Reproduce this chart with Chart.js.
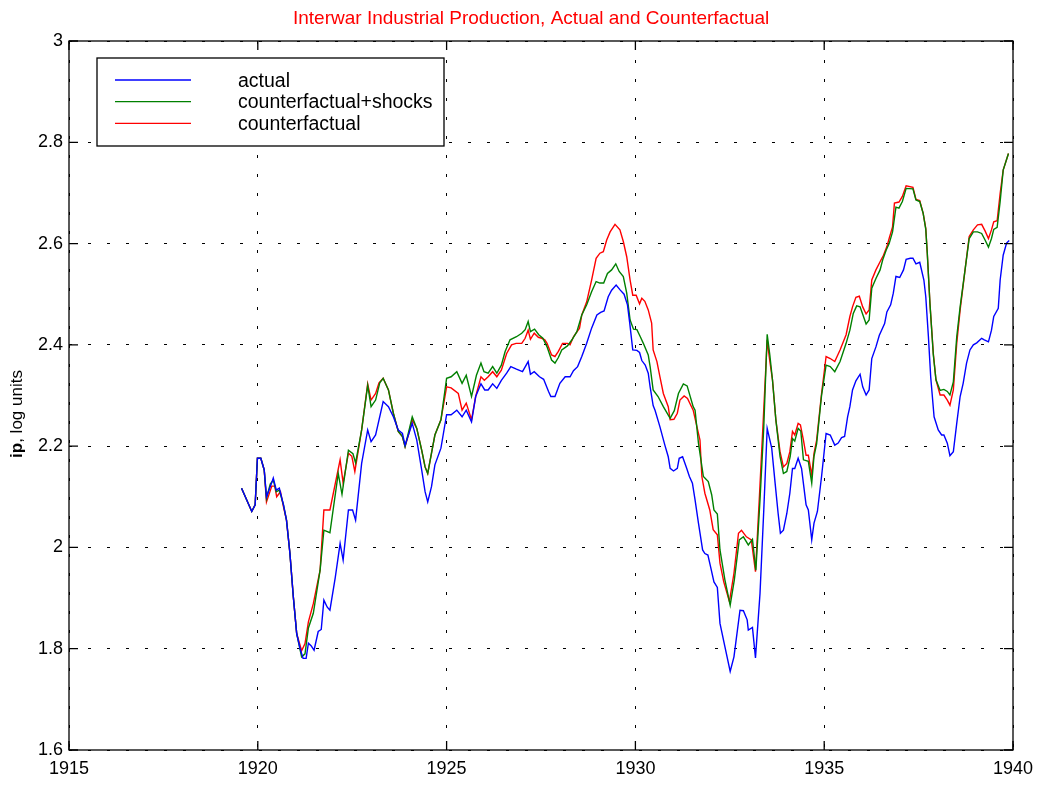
<!DOCTYPE html>
<html>
<head>
<meta charset="utf-8">
<script src="https://cdn.jsdelivr.net/npm/chart.js@4.4.1/dist/chart.umd.min.js"></script>
<style>
  html, body { margin: 0; padding: 0; background: #fff; }
  #wrap { width: 1042px; height: 787px; }
</style>
</head>
<body>
<div id="wrap"><canvas id="chart" width="1042" height="787"></canvas></div>
<script>
// series: [year, ip in log units]
const actual = [
  [1919.57, 2.117], [1919.84, 2.071], [1919.93, 2.084], [1919.99, 2.176], [1920.08, 2.176],
  [1920.17, 2.153], [1920.23, 2.100], [1920.37, 2.128], [1920.41, 2.137], [1920.49, 2.113],
  [1920.57, 2.117], [1920.68, 2.084], [1920.76, 2.054], [1920.85, 1.989], [1920.94, 1.903],
  [1921.03, 1.830], [1921.12, 1.800], [1921.20, 1.781], [1921.28, 1.781], [1921.34, 1.811],
  [1921.41, 1.806], [1921.49, 1.797], [1921.60, 1.834], [1921.68, 1.838], [1921.75, 1.896],
  [1921.84, 1.882], [1921.91, 1.876], [1922.05, 1.940], [1922.18, 2.008], [1922.26, 1.975],
  [1922.40, 2.074], [1922.51, 2.074], [1922.59, 2.054], [1922.75, 2.166], [1922.91, 2.232],
  [1923.00, 2.209], [1923.12, 2.222], [1923.32, 2.288], [1923.46, 2.278], [1923.59, 2.258],
  [1923.72, 2.232], [1923.83, 2.225], [1923.90, 2.202], [1924.09, 2.245], [1924.21, 2.212],
  [1924.34, 2.153], [1924.43, 2.110], [1924.50, 2.090], [1924.60, 2.120], [1924.69, 2.163],
  [1924.85, 2.196], [1925.00, 2.262], [1925.12, 2.262], [1925.27, 2.271], [1925.41, 2.258],
  [1925.52, 2.271], [1925.66, 2.248], [1925.77, 2.298], [1925.91, 2.323], [1926.01, 2.311],
  [1926.10, 2.311], [1926.22, 2.323], [1926.33, 2.314], [1926.45, 2.330], [1926.59, 2.344],
  [1926.70, 2.357], [1926.85, 2.352], [1927.01, 2.347], [1927.16, 2.367], [1927.22, 2.342],
  [1927.32, 2.347], [1927.46, 2.337], [1927.57, 2.332], [1927.70, 2.308], [1927.76, 2.298],
  [1927.87, 2.298], [1928.00, 2.324], [1928.14, 2.337], [1928.27, 2.337], [1928.36, 2.349],
  [1928.47, 2.357], [1928.58, 2.377], [1928.71, 2.403], [1928.84, 2.433], [1928.98, 2.459],
  [1929.08, 2.464], [1929.17, 2.467], [1929.28, 2.495], [1929.37, 2.508], [1929.49, 2.518],
  [1929.60, 2.508], [1929.70, 2.500], [1929.79, 2.479], [1929.85, 2.443], [1929.93, 2.390],
  [1930.04, 2.389], [1930.11, 2.385], [1930.17, 2.369], [1930.26, 2.360], [1930.34, 2.344],
  [1930.39, 2.317], [1930.47, 2.280], [1930.52, 2.271], [1930.65, 2.238], [1930.78, 2.202],
  [1930.87, 2.179], [1930.92, 2.156], [1931.01, 2.151], [1931.11, 2.156], [1931.16, 2.176],
  [1931.25, 2.179], [1931.36, 2.156], [1931.43, 2.140], [1931.51, 2.127], [1931.58, 2.094],
  [1931.67, 2.048], [1931.78, 1.995], [1931.84, 1.988], [1931.92, 1.985], [1931.99, 1.962],
  [1932.08, 1.932], [1932.17, 1.921], [1932.24, 1.850], [1932.37, 1.804], [1932.51, 1.755],
  [1932.61, 1.784], [1932.77, 1.876], [1932.86, 1.875], [1932.96, 1.857], [1932.99, 1.837],
  [1933.10, 1.842], [1933.18, 1.782], [1933.30, 1.909], [1933.40, 2.074], [1933.49, 2.235],
  [1933.61, 2.196], [1933.70, 2.127], [1933.78, 2.067], [1933.84, 2.028], [1933.92, 2.034],
  [1934.01, 2.067], [1934.09, 2.107], [1934.16, 2.156], [1934.22, 2.156], [1934.31, 2.176],
  [1934.40, 2.156], [1934.46, 2.120], [1934.52, 2.084], [1934.58, 2.074], [1934.67, 2.015],
  [1934.73, 2.048], [1934.82, 2.071], [1934.93, 2.140], [1935.05, 2.225], [1935.16, 2.222],
  [1935.28, 2.202], [1935.37, 2.206], [1935.46, 2.217], [1935.54, 2.219], [1935.62, 2.258],
  [1935.68, 2.278], [1935.75, 2.311], [1935.84, 2.329], [1935.95, 2.342], [1936.02, 2.317],
  [1936.11, 2.301], [1936.19, 2.311], [1936.26, 2.373], [1936.37, 2.396], [1936.46, 2.419],
  [1936.52, 2.429], [1936.60, 2.442], [1936.66, 2.465], [1936.76, 2.479], [1936.83, 2.502],
  [1936.90, 2.535], [1937.00, 2.533], [1937.10, 2.548], [1937.17, 2.569], [1937.28, 2.571],
  [1937.35, 2.571], [1937.43, 2.560], [1937.53, 2.563], [1937.64, 2.528], [1937.69, 2.495],
  [1937.76, 2.416], [1937.82, 2.337], [1937.91, 2.258], [1938.02, 2.232], [1938.11, 2.222],
  [1938.17, 2.222], [1938.26, 2.206], [1938.33, 2.181], [1938.42, 2.189], [1938.51, 2.245],
  [1938.60, 2.298], [1938.68, 2.324], [1938.77, 2.364], [1938.86, 2.390], [1938.95, 2.400],
  [1939.04, 2.404], [1939.17, 2.413], [1939.24, 2.410], [1939.35, 2.406], [1939.43, 2.429],
  [1939.49, 2.456], [1939.61, 2.472], [1939.66, 2.528], [1939.74, 2.577], [1939.83, 2.601],
  [1939.90, 2.606]
];

const cfShocks = [
  [1919.57, 2.117], [1919.84, 2.071], [1919.93, 2.084], [1919.99, 2.176], [1920.08, 2.176],
  [1920.17, 2.153], [1920.23, 2.097], [1920.33, 2.125], [1920.41, 2.133], [1920.49, 2.110],
  [1920.57, 2.113], [1920.68, 2.084], [1920.76, 2.054], [1920.85, 1.989], [1920.94, 1.903],
  [1921.03, 1.830], [1921.10, 1.805], [1921.16, 1.784], [1921.25, 1.790], [1921.34, 1.841],
  [1921.47, 1.870], [1921.65, 1.955], [1921.75, 2.034], [1921.91, 2.029], [1922.13, 2.146],
  [1922.23, 2.105], [1922.40, 2.192], [1922.52, 2.185], [1922.59, 2.167], [1922.75, 2.232],
  [1922.91, 2.320], [1923.00, 2.278], [1923.12, 2.291], [1923.23, 2.325], [1923.32, 2.334],
  [1923.46, 2.311], [1923.59, 2.265], [1923.72, 2.229], [1923.83, 2.219], [1923.90, 2.199],
  [1924.09, 2.258], [1924.21, 2.235], [1924.34, 2.192], [1924.43, 2.159], [1924.50, 2.146],
  [1924.60, 2.186], [1924.69, 2.222], [1924.85, 2.252], [1925.00, 2.334], [1925.12, 2.337],
  [1925.27, 2.347], [1925.41, 2.324], [1925.52, 2.340], [1925.66, 2.298], [1925.79, 2.340],
  [1925.91, 2.364], [1925.99, 2.347], [1926.10, 2.344], [1926.22, 2.357], [1926.33, 2.344],
  [1926.45, 2.360], [1926.55, 2.387], [1926.68, 2.410], [1926.85, 2.416], [1926.99, 2.423],
  [1927.08, 2.430], [1927.16, 2.446], [1927.22, 2.426], [1927.33, 2.431], [1927.44, 2.420],
  [1927.55, 2.413], [1927.66, 2.396], [1927.78, 2.370], [1927.87, 2.364], [1927.96, 2.375],
  [1928.05, 2.390], [1928.20, 2.398], [1928.32, 2.410], [1928.45, 2.426], [1928.58, 2.459],
  [1928.71, 2.479], [1928.84, 2.505], [1928.96, 2.525], [1929.06, 2.522], [1929.16, 2.522],
  [1929.26, 2.541], [1929.37, 2.548], [1929.48, 2.560], [1929.57, 2.545], [1929.68, 2.535],
  [1929.77, 2.502], [1929.86, 2.449], [1929.95, 2.431], [1930.04, 2.430], [1930.13, 2.416],
  [1930.21, 2.403], [1930.34, 2.380], [1930.39, 2.357], [1930.47, 2.311], [1930.60, 2.298],
  [1930.74, 2.278], [1930.92, 2.255], [1931.03, 2.270], [1931.14, 2.304], [1931.27, 2.323],
  [1931.37, 2.319], [1931.53, 2.278], [1931.58, 2.271], [1931.67, 2.206], [1931.80, 2.140],
  [1931.93, 2.130], [1932.02, 2.104], [1932.08, 2.074], [1932.17, 2.066], [1932.24, 1.995],
  [1932.37, 1.936], [1932.51, 1.886], [1932.62, 1.936], [1932.75, 2.015], [1932.86, 2.021],
  [1932.99, 2.005], [1933.10, 2.016], [1933.19, 1.955], [1933.30, 2.094], [1933.40, 2.238],
  [1933.49, 2.421], [1933.56, 2.380], [1933.63, 2.331], [1933.72, 2.252], [1933.83, 2.180],
  [1933.92, 2.146], [1934.01, 2.150], [1934.10, 2.180], [1934.16, 2.215], [1934.22, 2.210],
  [1934.31, 2.235], [1934.38, 2.230], [1934.45, 2.173], [1934.58, 2.170], [1934.67, 2.127],
  [1934.73, 2.180], [1934.80, 2.205], [1934.93, 2.300], [1935.05, 2.360], [1935.16, 2.357],
  [1935.28, 2.347], [1935.42, 2.367], [1935.58, 2.403], [1935.68, 2.429], [1935.77, 2.462],
  [1935.86, 2.477], [1935.95, 2.475], [1936.04, 2.456], [1936.11, 2.441], [1936.19, 2.449],
  [1936.26, 2.512], [1936.37, 2.531], [1936.48, 2.548], [1936.55, 2.568], [1936.64, 2.587],
  [1936.72, 2.600], [1936.81, 2.623], [1936.90, 2.672], [1936.98, 2.670], [1937.07, 2.683],
  [1937.17, 2.709], [1937.35, 2.708], [1937.43, 2.686], [1937.53, 2.683], [1937.62, 2.660],
  [1937.69, 2.628], [1937.73, 2.581], [1937.80, 2.482], [1937.89, 2.380], [1937.96, 2.331],
  [1938.07, 2.310], [1938.17, 2.312], [1938.26, 2.308], [1938.33, 2.301], [1938.42, 2.327],
  [1938.51, 2.416], [1938.60, 2.475], [1938.73, 2.548], [1938.84, 2.610], [1938.95, 2.623],
  [1939.06, 2.623], [1939.17, 2.620], [1939.26, 2.607], [1939.35, 2.593], [1939.43, 2.610],
  [1939.49, 2.628], [1939.58, 2.632], [1939.66, 2.683], [1939.74, 2.745], [1939.88, 2.778]
];

const counterfactual = [
  [1919.57, 2.117], [1919.84, 2.071], [1919.93, 2.084], [1919.99, 2.176], [1920.08, 2.176],
  [1920.17, 2.153], [1920.23, 2.090], [1920.37, 2.121], [1920.45, 2.121], [1920.50, 2.100],
  [1920.60, 2.110], [1920.68, 2.080], [1920.76, 2.054], [1920.85, 1.989], [1920.94, 1.903],
  [1921.03, 1.830], [1921.16, 1.796], [1921.25, 1.810], [1921.34, 1.853], [1921.47, 1.889],
  [1921.65, 1.955], [1921.75, 2.074], [1921.91, 2.074], [1922.18, 2.173], [1922.26, 2.127],
  [1922.40, 2.186], [1922.49, 2.180], [1922.57, 2.150], [1922.75, 2.232], [1922.91, 2.323],
  [1923.00, 2.291], [1923.12, 2.304], [1923.21, 2.325], [1923.32, 2.334], [1923.46, 2.311],
  [1923.59, 2.265], [1923.72, 2.229], [1923.83, 2.219], [1923.90, 2.199], [1924.00, 2.225],
  [1924.09, 2.252], [1924.21, 2.235], [1924.34, 2.192], [1924.43, 2.159], [1924.50, 2.146],
  [1924.60, 2.186], [1924.69, 2.222], [1924.85, 2.252], [1925.00, 2.317], [1925.12, 2.315],
  [1925.31, 2.304], [1925.41, 2.271], [1925.52, 2.285], [1925.66, 2.252], [1925.77, 2.298],
  [1925.91, 2.337], [1926.00, 2.330], [1926.10, 2.337], [1926.22, 2.347], [1926.33, 2.337],
  [1926.45, 2.350], [1926.59, 2.383], [1926.72, 2.400], [1926.84, 2.403], [1926.99, 2.403],
  [1927.08, 2.413], [1927.16, 2.429], [1927.22, 2.411], [1927.32, 2.423], [1927.43, 2.415],
  [1927.52, 2.413], [1927.60, 2.410], [1927.66, 2.403], [1927.78, 2.380], [1927.87, 2.377],
  [1927.96, 2.387], [1928.07, 2.403], [1928.20, 2.403], [1928.27, 2.400], [1928.36, 2.416],
  [1928.52, 2.433], [1928.58, 2.459], [1928.71, 2.485], [1928.84, 2.528], [1928.96, 2.571],
  [1929.06, 2.581], [1929.15, 2.584], [1929.24, 2.607], [1929.33, 2.623], [1929.46, 2.638],
  [1929.59, 2.627], [1929.68, 2.604], [1929.77, 2.574], [1929.86, 2.528], [1929.93, 2.498],
  [1930.02, 2.498], [1930.11, 2.481], [1930.17, 2.492], [1930.25, 2.486], [1930.34, 2.469],
  [1930.43, 2.443], [1930.47, 2.390], [1930.57, 2.367], [1930.65, 2.337], [1930.74, 2.304],
  [1930.87, 2.278], [1930.92, 2.252], [1931.02, 2.253], [1931.11, 2.265], [1931.18, 2.291],
  [1931.29, 2.299], [1931.38, 2.294], [1931.53, 2.271], [1931.71, 2.212], [1931.76, 2.140],
  [1931.84, 2.107], [1931.97, 2.074], [1932.06, 2.035], [1932.17, 2.025], [1932.24, 1.969],
  [1932.34, 1.932], [1932.49, 1.893], [1932.61, 1.949], [1932.73, 2.028], [1932.81, 2.034],
  [1932.94, 2.021], [1933.07, 2.015], [1933.18, 1.952], [1933.28, 2.094], [1933.39, 2.258],
  [1933.49, 2.410], [1933.55, 2.373], [1933.63, 2.331], [1933.72, 2.252], [1933.83, 2.189],
  [1933.92, 2.159], [1934.01, 2.166], [1934.09, 2.189], [1934.16, 2.229], [1934.22, 2.222],
  [1934.31, 2.245], [1934.37, 2.242], [1934.45, 2.212], [1934.52, 2.182], [1934.58, 2.182],
  [1934.67, 2.143], [1934.73, 2.186], [1934.80, 2.212], [1934.93, 2.304], [1935.05, 2.377],
  [1935.16, 2.373], [1935.28, 2.367], [1935.42, 2.390], [1935.58, 2.420], [1935.68, 2.456],
  [1935.75, 2.475], [1935.84, 2.494], [1935.93, 2.496], [1936.02, 2.475], [1936.11, 2.461],
  [1936.19, 2.469], [1936.26, 2.528], [1936.37, 2.548], [1936.48, 2.564], [1936.57, 2.577],
  [1936.66, 2.594], [1936.72, 2.610], [1936.81, 2.633], [1936.86, 2.680], [1936.98, 2.682],
  [1937.07, 2.693], [1937.17, 2.714], [1937.35, 2.711], [1937.43, 2.687], [1937.53, 2.685],
  [1937.62, 2.660], [1937.69, 2.630], [1937.73, 2.581], [1937.80, 2.482], [1937.89, 2.383],
  [1937.96, 2.331], [1938.07, 2.301], [1938.17, 2.301], [1938.26, 2.291], [1938.33, 2.281],
  [1938.42, 2.311], [1938.51, 2.403], [1938.60, 2.469], [1938.73, 2.548], [1938.84, 2.614],
  [1938.95, 2.627], [1939.06, 2.637], [1939.17, 2.638], [1939.26, 2.625], [1939.35, 2.610],
  [1939.43, 2.627], [1939.49, 2.643], [1939.58, 2.645], [1939.66, 2.699], [1939.74, 2.745],
  [1939.88, 2.778]
];

const seriesNames = ['actual', 'counterfactual+shocks', 'counterfactual'];
const seriesColors = ['#0000ff', '#008000', '#ff0000'];
const xTicks = [1915, 1920, 1925, 1930, 1935, 1940];
const yTicks = [1.6, 1.8, 2, 2.2, 2.4, 2.6, 2.8, 3];

const FONT = '"Liberation Sans", Arial, Helvetica, sans-serif';
const toPts = arr => arr.map(p => ({ x: p[0], y: p[1] }));

// box, inward ticks, title, y label and legend, drawn the MATLAB way
const framePlugin = {
  id: 'frame',
  afterDatasetsDraw(chart) {
    const { ctx, chartArea: a, scales } = chart;
    ctx.save();
    ctx.strokeStyle = '#000';
    ctx.lineWidth = 1.3;
    ctx.setLineDash([]);
    ctx.strokeRect(a.left, a.top, a.right - a.left, a.bottom - a.top);

    const tl = 9;
    ctx.beginPath();
    xTicks.forEach(v => {
      const px = scales.x.getPixelForValue(v);
      ctx.moveTo(px, a.bottom); ctx.lineTo(px, a.bottom - tl);
      ctx.moveTo(px, a.top); ctx.lineTo(px, a.top + tl);
    });
    yTicks.forEach(v => {
      const py = scales.y.getPixelForValue(v);
      ctx.moveTo(a.left, py); ctx.lineTo(a.left + tl, py);
      ctx.moveTo(a.right, py); ctx.lineTo(a.right - tl, py);
    });
    ctx.stroke();

    // title
    ctx.fillStyle = '#ff0000';
    ctx.font = '19px ' + FONT;
    ctx.textAlign = 'left';
    ctx.textBaseline = 'alphabetic';
    ctx.fillText('Interwar Industrial Production, Actual and Counterfactual', 293, 24);

    // y label, "ip" in bold
    ctx.save();
    ctx.translate(22, 414);
    ctx.rotate(-Math.PI / 2);
    ctx.fillStyle = '#000';
    ctx.textAlign = 'left';
    const boldF = 'bold 17px ' + FONT, normF = '17px ' + FONT;
    ctx.font = boldF;
    const w1 = ctx.measureText('ip').width;
    ctx.font = normF;
    const w2 = ctx.measureText(', log units').width;
    const x0 = -(w1 + w2) / 2;
    ctx.font = boldF;
    ctx.fillText('ip', x0, 0);
    ctx.font = normF;
    ctx.fillText(', log units', x0 + w1, 0);
    ctx.restore();

    // legend
    const lx = 97, ly = 58, lw = 347, lh = 88;
    ctx.fillStyle = '#fff';
    ctx.fillRect(lx, ly, lw, lh);
    ctx.strokeStyle = '#000';
    ctx.lineWidth = 1.3;
    ctx.strokeRect(lx, ly, lw, lh);
    ctx.font = '19.5px ' + FONT;
    ctx.textAlign = 'left';
    chart.data.datasets.forEach((ds, i) => {
      const ry = 80 + i * 21.7;
      ctx.strokeStyle = ds.borderColor;
      ctx.lineWidth = 1.3;
      ctx.beginPath();
      ctx.moveTo(115, ry); ctx.lineTo(191, ry);
      ctx.stroke();
      ctx.fillStyle = '#000';
      ctx.fillText(ds.label, 238, ry + 6.5);
    });
    ctx.restore();
  }
};

new Chart(document.getElementById('chart'), {
  type: 'line',
  data: {
    datasets: [actual, cfShocks, counterfactual].map((s, i) => ({
      label: seriesNames[i],
      data: toPts(s),
      borderColor: seriesColors[i],
      borderWidth: 1.4,
      pointRadius: 0,
      tension: 0,
      fill: false
    }))
  },
  options: {
    responsive: false,
    animation: false,
    events: [],
    layout: { padding: { top: 41, right: 29, left: 0, bottom: 0 } },
    plugins: { legend: { display: false }, title: { display: false }, tooltip: { enabled: false } },
    scales: {
      x: {
        type: 'linear',
        min: 1915, max: 1940,
        afterFit: s => { s.height = 37; },
        afterBuildTicks: s => { s.ticks = xTicks.map(v => ({ value: v })); },
        ticks: { font: { family: FONT, size: 18 }, color: '#000', padding: 8, maxRotation: 0, autoSkip: false,
                 callback: v => String(v) },
        grid: { color: '#000', lineWidth: 1, drawTicks: false },
        border: { display: false, dash: [3, 16] }
      },
      y: {
        min: 1.6, max: 3,
        afterFit: s => { s.width = 69; },
        afterBuildTicks: s => { s.ticks = yTicks.map(v => ({ value: v })); },
        ticks: { font: { family: FONT, size: 18 }, color: '#000', padding: 6, autoSkip: false,
                 callback: v => String(+v.toFixed(1)) },
        grid: { color: '#000', lineWidth: 1, drawTicks: false },
        border: { display: false, dash: [3, 16] }
      }
    }
  },
  plugins: [framePlugin]
});
</script>
</body>
</html>
